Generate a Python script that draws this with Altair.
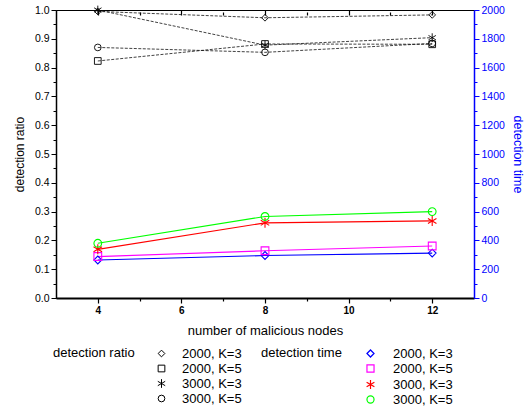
import altair as alt
import pandas as pd

nodes = [4, 8, 12]
series_names = ["2000, K=3", "2000, K=5", "3000, K=3", "3000, K=5"]

ratio_2000_k3 = [0.995, 0.973, 0.983]
ratio_2000_k5 = [0.823, 0.882, 0.881]
ratio_3000_k3 = [1.0, 0.878, 0.904]
ratio_3000_k5 = [0.870, 0.853, 0.884]

time_2000_k3 = [264, 295, 312]
time_2000_k5 = [288, 328, 361]
time_3000_k3 = [338, 522, 535]
time_3000_k5 = [380, 566, 600]

ratio_ticks = [round(i * 0.05, 2) for i in range(21)]
time_ticks = list(range(0, 2001, 100))
x_ticks = list(range(4, 13))

time_colors = ["#0000FF", "#FF00FF", "#FF0000", "#00FF00"]
star = "M0,-1.3L0,1.3M-1.1,-0.65L1.1,0.65M-1.1,0.65L1.1,-0.65"
shapes = ["diamond", "square", star, "circle"]

ratio_rows = []
for name, vals in zip(series_names, [ratio_2000_k3, ratio_2000_k5, ratio_3000_k3, ratio_3000_k5]):
    for n, v in zip(nodes, vals):
        ratio_rows.append({"nodes": n, "ratio": v, "ratio_series": name})
ratio_df = pd.DataFrame(ratio_rows)

time_rows = []
for name, vals in zip(series_names, [time_2000_k3, time_2000_k5, time_3000_k3, time_3000_k5]):
    for n, v in zip(nodes, vals):
        time_rows.append({"nodes": n, "time": v, "time_series": name})
time_df = pd.DataFrame(time_rows)

FONT = "Liberation Sans"
BLUE = "#0000FF"

x_scale = alt.Scale(domain=[3, 13], nice=False, zero=False)
ratio_scale = alt.Scale(domain=[0, 1], nice=False, zero=False)
time_scale = alt.Scale(domain=[0, 2000], nice=False, zero=False)

x_axis = alt.Axis(
    values=x_ticks, labelOverlap=False, labelFlush=False,
    labelExpr="datum.value % 2 === 0 ? datum.label : ''",
    labelFontWeight="bold", labelFontSize=10, labelColor="black", labelPadding=2,
    tickSize={"condition": {"test": "datum.value % 2 === 0", "value": 5}, "value": 3},
    tickColor="black", tickWidth=1.2,
    domainColor="black", domainWidth=2,
    title="number of malicious nodes", titleFontSize=13, titleFontWeight="normal",
    titleColor="black", titlePadding=9, grid=False,
)
top_axis = alt.Axis(
    orient="top", values=x_ticks, labels=False, domain=False, offset=-5,
    tickSize={"condition": {"test": "datum.value % 2 === 0", "value": 5}, "value": 3},
    tickColor="black", tickWidth=1.2, title=None, grid=False,
)
ratio_axis = alt.Axis(
    orient="left", values=ratio_ticks, labelOverlap=False, labelFlush=False,
    labelExpr="round(datum.value * 20) % 2 === 0 ? format(datum.value, '.1f') : ''",
    labelFontSize=10.5, labelColor="black", labelPadding=2,
    tickSize={"condition": {"test": "round(datum.value * 20) % 2 === 0", "value": 5}, "value": 3},
    tickColor="black", domainColor="black", domainWidth=1.5,
    title="detection ratio", titleFontSize=12, titleFontWeight="normal",
    titleColor="black", titlePadding=8, grid=False,
)
time_axis = alt.Axis(
    orient="right", values=time_ticks, format="d", labelOverlap=False, labelFlush=False,
    labelExpr="datum.value % 200 === 0 ? datum.label : ''",
    labelFontSize=10.5, labelColor=BLUE, labelPadding=2,
    tickSize={"condition": {"test": "datum.value % 200 === 0", "value": 5}, "value": 3},
    tickColor=BLUE, domainColor=BLUE, domainWidth=1.5,
    title="detection time", titleFontSize=12.5, titleFontWeight="normal",
    titleColor=BLUE, titlePadding=6, grid=False,
)

ratio_legend = alt.Legend(
    title="detection ratio", orient="none", legendX=-3, legendY=337,
    titleOrient="left", titleAnchor="start", titleFontSize=13,
    titleFontWeight="normal", titleColor="black", titlePadding=20,
    labelFontSize=13, labelColor="black", labelOffset=14,
    symbolStrokeColor="black", symbolStrokeWidth=1, symbolSize=45,
    symbolFillColor="transparent", rowPadding=1,
)
time_legend = alt.Legend(
    title="detection time", orient="none", legendX=205, legendY=337,
    titleOrient="left", titleAnchor="start", titleFontSize=13,
    titleFontWeight="normal", titleColor="black", titlePadding=22,
    labelFontSize=13, labelColor="black", labelOffset=16,
    symbolStrokeWidth=1.2, symbolSize=50, symbolFillColor="transparent",
    rowPadding=1,
)

ratio_lines = alt.Chart(ratio_df).mark_line(
    color="#111111", strokeWidth=0.8, strokeDash=[3, 1.5]
).encode(
    x=alt.X("nodes:Q", scale=x_scale, axis=x_axis),
    y=alt.Y("ratio:Q", scale=ratio_scale, axis=ratio_axis),
    detail="ratio_series:N",
)
ratio_points = alt.Chart(ratio_df).mark_point(
    filled=False, color="black", strokeWidth=0.9, opacity=1, size=45
).encode(
    x=alt.X("nodes:Q", scale=x_scale, axis=x_axis),
    y=alt.Y("ratio:Q", scale=ratio_scale, axis=ratio_axis),
    shape=alt.Shape("ratio_series:N", scale=alt.Scale(domain=series_names, range=shapes),
                    legend=ratio_legend),
)
ratio_group = alt.layer(ratio_lines, ratio_points)

time_color = alt.Color("time_series:N", scale=alt.Scale(domain=series_names, range=time_colors),
                       legend=time_legend)
time_lines = alt.Chart(time_df).mark_line(strokeWidth=1.2).encode(
    x=alt.X("nodes:Q", scale=x_scale, axis=None),
    y=alt.Y("time:Q", scale=time_scale, axis=time_axis),
    color=time_color,
    detail="time_series:N",
)
time_points = alt.Chart(time_df).mark_point(filled=False, strokeWidth=1.1, opacity=1, size=60).encode(
    x=alt.X("nodes:Q", scale=x_scale, axis=None),
    y=alt.Y("time:Q", scale=time_scale, axis=time_axis),
    color=time_color,
    shape=alt.Shape("time_series:N", scale=alt.Scale(domain=series_names, range=shapes),
                    legend=time_legend),
)
time_group = alt.layer(time_lines, time_points)

top_dummy = alt.Chart(ratio_df).mark_point(opacity=0).encode(
    x=alt.X("nodes:Q", scale=x_scale, axis=top_axis),
    y=alt.Y("ratio:Q", scale=ratio_scale, axis=None),
)

chart = alt.layer(ratio_group, time_group, top_dummy).resolve_scale(
    y="independent", x="independent", shape="independent", color="independent",
).properties(
    width=418, height=288,
    autosize=alt.AutoSizeParams(type="none"),
    padding={"left": 56, "top": 10, "right": 56, "bottom": 111},
).configure(font=FONT).configure_view(stroke="black", strokeWidth=1)

chart.save("out.html", embed_options={"renderer": "svg", "actions": False})
